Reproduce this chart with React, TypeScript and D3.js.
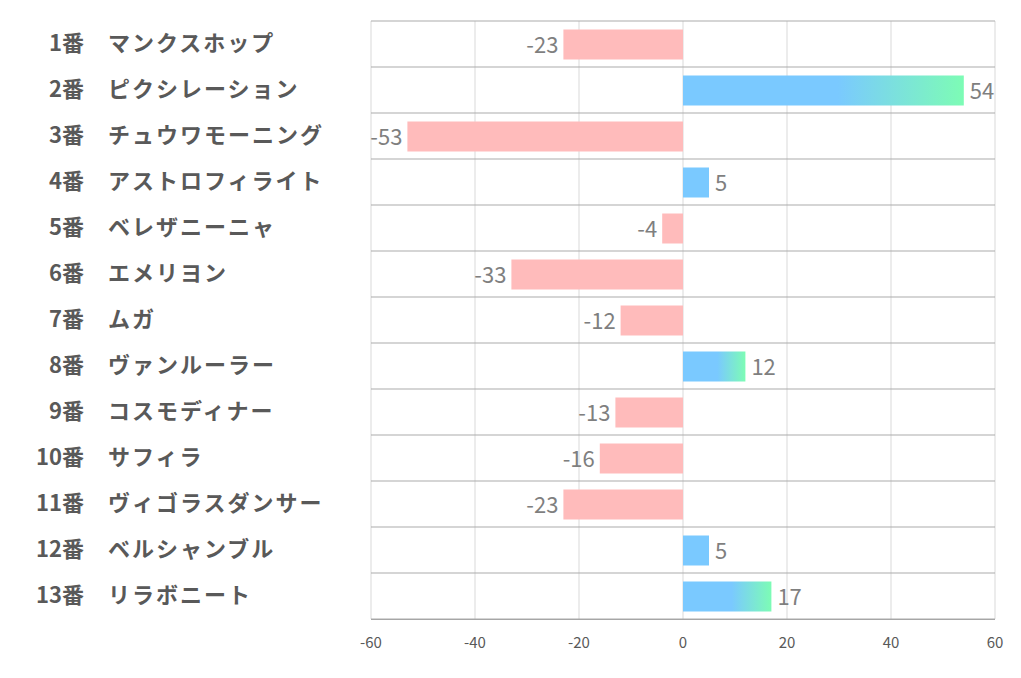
import React from "react";
import * as d3 from "d3";

const numbers = ["1番", "2番", "3番", "4番", "5番", "6番", "7番", "8番", "9番", "10番", "11番", "12番", "13番"];
const names = ["マンクスホップ", "ピクシレーション", "チュウワモーニング", "アストロフィライト", "ベレザニーニャ", "エメリヨン", "ムガ", "ヴァンルーラー", "コスモディナー", "サフィラ", "ヴィゴラスダンサー", "ベルシャンブル", "リラボニート"];
const values = [-23, 54, -53, 5, -4, -33, -12, 12, -13, -16, -23, 5, 17];
const ticks = [-60, -40, -20, 0, 20, 40, 60];

const W = 1021, H = 678;
const left = 371, right = 995, top = 21, bottom = 619;

export default function App() {
  const x = d3.scaleLinear().domain([-60, 60]).range([left, right]);
  const y = d3.scaleBand<number>().domain(d3.range(values.length)).range([top, bottom]).paddingInner(0).paddingOuter(0);
  const bh = 30;
  const band = y.bandwidth();
  const font = "'Noto Sans CJK JP', 'Noto Sans', sans-serif";
  return (
    <svg width={W} height={H} style={{ position: "absolute", left: 0, top: 0, background: "#fff" }}>
      <defs>
        <linearGradient id="posGrad" x1="0" x2="1" y1="0" y2="0">
          <stop offset="0" stopColor="#7ac9ff" />
          <stop offset="0.55" stopColor="#7ac9ff" />
          <stop offset="1" stopColor="#7dfcb5" />
        </linearGradient>
      </defs>
      {ticks.map((t) => (
        <line key={"g" + t} x1={x(t)} x2={x(t)} y1={top} y2={bottom} stroke="#d9d9d9" strokeWidth={1} />
      ))}
      {d3.range(values.length + 1).map((i) => (
        <line key={"h" + i} x1={left} x2={right} y1={top + i * band} y2={top + i * band} stroke="#ababab" strokeWidth={1} />
      ))}
      {values.map((v, i) => {
        const yc = (y(i) as number) + band / 2;
        const x0 = x(Math.min(0, v));
        const w = Math.abs(x(v) - x(0));
        const fill = v < 0 ? "#ffbbbb" : v >= 10 ? "url(#posGrad)" : "#7ac9ff";
        return (
          <g key={"b" + i}>
            <rect x={x0} y={yc - bh / 2 + 0.5} width={w} height={bh} fill={fill} />
            <text
              x={v < 0 ? x(v) - 5 : x(v) + 6}
              y={yc + 9}
              textAnchor={v < 0 ? "end" : "start"}
              fontSize={22}
              fill="#7f7f7f"
              fontFamily={font}
            >
              {v}
            </text>
            <text x={84} y={yc + 7} textAnchor="end" fontSize={22} fontWeight="bold" fill="#595959" fontFamily={font}>
              {numbers[i]}
            </text>
            <text x={108} y={yc + 7} textAnchor="start" fontSize={22} letterSpacing={2} fontWeight="bold" fill="#595959" fontFamily={font}>
              {names[i]}
            </text>
          </g>
        );
      })}
      <line x1={left} x2={right} y1={bottom + 0.5} y2={bottom + 0.5} stroke="#a6a6a6" strokeWidth={1} />
      {ticks.map((t) => (
        <text key={"t" + t} x={x(t)} y={648} textAnchor="middle" fontSize={15} fill="#595959" fontFamily={font}>
          {t}
        </text>
      ))}
    </svg>
  );
}
